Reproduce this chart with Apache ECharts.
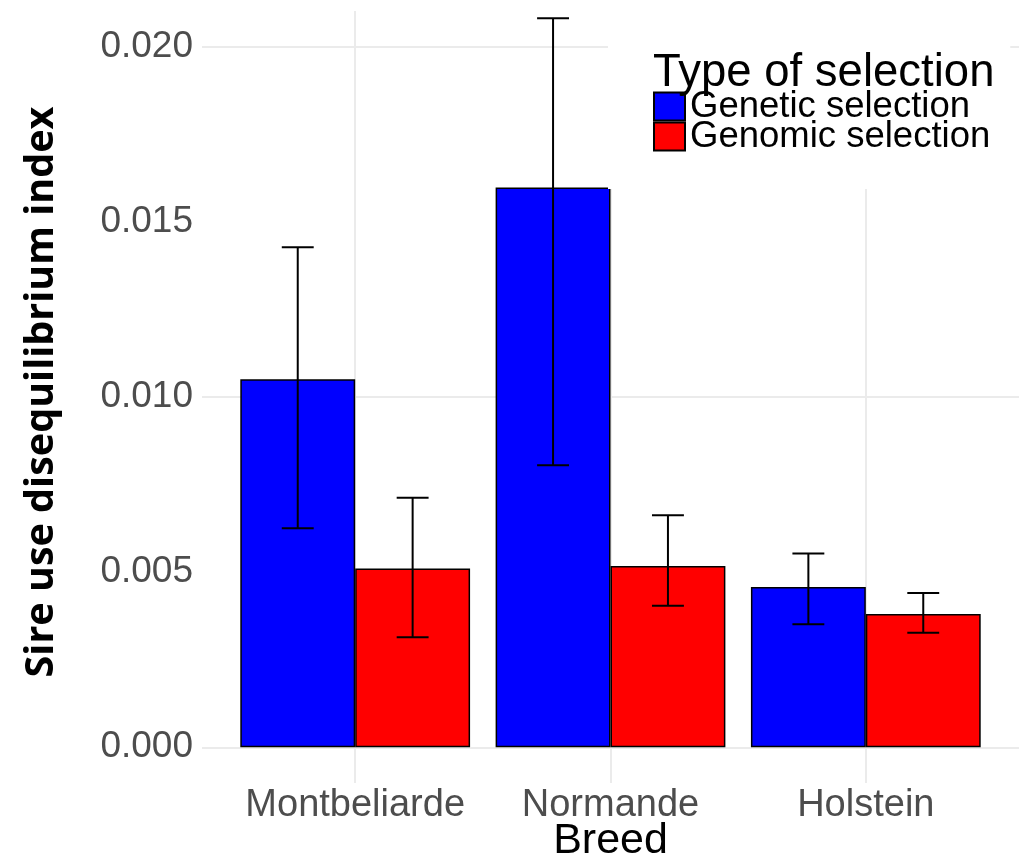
<!DOCTYPE html>
<html>
<head>
<meta charset="utf-8">
<script src="https://cdn.jsdelivr.net/npm/echarts@6/dist/echarts.min.js"></script>
<style>
  html, body { margin: 0; padding: 0; background: #ffffff; }
  #chart { width: 1019px; height: 857px; }
</style>
</head>
<body>
<div id="chart"></div>
<script>
// Breeds along the x axis (placed at positions 1, 2, 3)
const breeds = ['Montbeliarde', 'Normande', 'Holstein'];
const selectionTypes = ['Genetic selection', 'Genomic selection'];

// Sire use disequilibrium index: mean and error-bar limits per breed
const geneticMean = [0.0105, 0.01597, 0.00457];
const geneticLow  = [0.00625, 0.00805, 0.00351];
const geneticHigh = [0.01427, 0.0208, 0.00553];

const genomicMean = [0.0051, 0.00517, 0.0038];
const genomicLow  = [0.00314, 0.00404, 0.00327];
const genomicHigh = [0.00712, 0.00662, 0.0044];

// Y axis ticks
const yMajorTicks = [0, 0.005, 0.01, 0.015, 0.02];
const yMinorTicks = [0.0025, 0.0075, 0.0125, 0.0175];

// Dodge layout: two bars share 0.9 of each breed slot
const DODGE = 0.9;
const BAR_SHARE = DODGE / 2;
const CAP_WIDTH = 0.125;

const positions = breeds.map((b, i) => i + 1);

const barData = (means) => positions.map((p, i) => [p, means[i]]);
const errData = (low, high, shift) => positions.map((p, i) => [p + shift, low[i], high[i]]);

function renderErrorBar(params, api) {
  const x = api.value(0);
  const lo = api.coord([x, api.value(1)]);
  const hi = api.coord([x, api.value(2)]);
  const half = api.size([CAP_WIDTH, 0])[0] / 2;
  const style = { stroke: '#000000', lineWidth: 2 };
  return {
    type: 'group',
    children: [
      { type: 'line', shape: { x1: lo[0], y1: lo[1], x2: hi[0], y2: hi[1] }, style },
      { type: 'line', shape: { x1: hi[0] - half, y1: hi[1], x2: hi[0] + half, y2: hi[1] }, style },
      { type: 'line', shape: { x1: lo[0] - half, y1: lo[1], x2: lo[0] + half, y2: lo[1] }, style }
    ]
  };
}

const gridColor = '#ebebeb';
const solid = (width) => ({ type: 'solid', width, color: gridColor });
const gridLines = []
  .concat(yMajorTicks.map(v => ({ yAxis: v, lineStyle: solid(2) })))
  .concat(yMinorTicks.map(v => ({ yAxis: v, lineStyle: solid(1) })))
  .concat(positions.map(p => ({ xAxis: p, lineStyle: solid(2) })));

const chart = echarts.init(document.getElementById('chart'), null, { renderer: 'canvas' });

chart.setOption({
  animation: false,
  backgroundColor: '#ffffff',
  title: {
    text: 'Type of selection',
    left: 648,
    top: 45,
    textStyle: { fontFamily: 'Liberation Sans', fontSize: 45.5, fontWeight: 'normal', color: '#000000' },
    z: 10
  },
  legend: {
    data: selectionTypes,
    orient: 'vertical',
    left: 608,
    top: 0,
    padding: [88, 20, 34, 45],
    backgroundColor: '#ffffff',
    itemWidth: 31,
    itemHeight: 28,
    itemGap: -7,
    icon: 'rect',
    itemStyle: { borderColor: '#000000', borderWidth: 2 },
    textStyle: { fontFamily: 'Liberation Sans', fontSize: 36.5, color: '#000000' },
    selectedMode: false
  },
  grid: { left: 202, right: 0, top: 11, bottom: 74, containLabel: false, outerBoundsMode: 'none' },
  xAxis: {
    type: 'value',
    min: 0.4,
    max: 3.6,
    axisLine: { show: false, onZero: false },
    axisTick: { show: false },
    splitLine: { show: false },
    axisLabel: {
      customValues: positions,
      formatter: v => breeds[Math.round(v) - 1],
      fontFamily: 'Liberation Sans',
      fontSize: 38,
      color: '#4d4d4d',
      margin: 4
    },
    name: 'Breed',
    nameLocation: 'middle',
    nameGap: 37,
    nameMoveOverlap: false,
    nameTextStyle: { fontFamily: 'Liberation Sans', fontSize: 43, color: '#000000' }
  },
  yAxis: {
    type: 'value',
    min: -0.00102,
    max: 0.02101,
    axisLine: { show: false },
    axisTick: { show: false },
    splitLine: { show: false },
    axisLabel: {
      customValues: yMajorTicks,
      formatter: v => v.toFixed(3),
      fontFamily: 'Liberation Sans',
      fontSize: 37,
      color: '#4d4d4d',
      margin: 9
    },
    name: 'Sire use disequilibrium index',
    nameLocation: 'middle',
    nameRotate: 90,
    nameGap: 140,
    nameTextStyle: {
      fontFamily: 'Open Sans', fontWeight: 'bold', fontSize: 39.5, color: '#000000',
      padding: [0, 0, 0, 10]
    }
  },
  series: [
    {
      name: 'grid',
      type: 'line',
      data: [],
      z: 0,
      silent: true,
      markLine: {
        silent: true,
        z: 0,
        symbol: 'none',
        label: { show: false },
        emphasis: { disabled: true },
        animation: false,
        data: gridLines
      }
    },
    {
      name: selectionTypes[0],
      type: 'bar',
      data: barData(geneticMean),
      barWidth: (BAR_SHARE * 100) + '%',
      barGap: '0%',
      itemStyle: { color: '#0000ff', borderColor: '#000000', borderWidth: 1.5 },
      z: 2
    },
    {
      name: selectionTypes[1],
      type: 'bar',
      data: barData(genomicMean),
      barWidth: (BAR_SHARE * 100) + '%',
      barGap: '0%',
      itemStyle: { color: '#ff0000', borderColor: '#000000', borderWidth: 1.5 },
      z: 2
    },
    {
      type: 'custom',
      renderItem: renderErrorBar,
      data: errData(geneticLow, geneticHigh, -BAR_SHARE / 2),
      encode: { x: 0, y: [1, 2] },
      z: 3
    },
    {
      type: 'custom',
      renderItem: renderErrorBar,
      data: errData(genomicLow, genomicHigh, BAR_SHARE / 2),
      encode: { x: 0, y: [1, 2] },
      z: 3
    }
  ]
});
</script>
</body>
</html>
